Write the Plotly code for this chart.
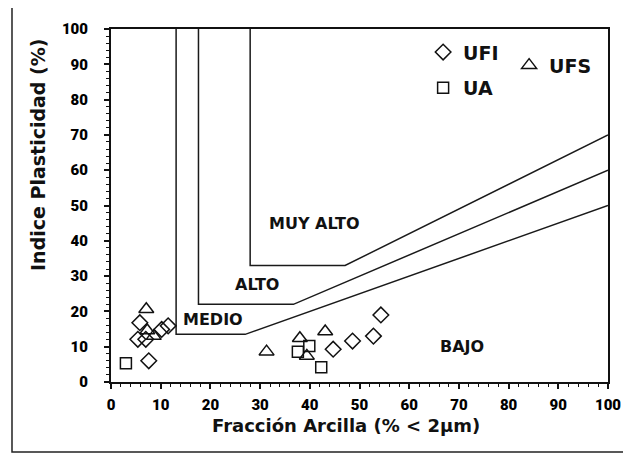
import plotly.graph_objects as go

# ---- data ----
ufi_x = [7.6, 5.8, 5.4, 7.0, 10.2, 11.5, 44.7, 48.6, 52.8, 54.3]
ufi_y = [6.0, 16.8, 12.1, 12.1, 14.9, 15.9, 9.3, 11.6, 13.0, 19.0]

ua_x = [3.0, 37.6, 39.9, 42.3]
ua_y = [5.3, 8.6, 10.2, 4.2]

ufs_x = [7.1, 7.3, 8.6, 31.3, 38.0, 39.4, 43.1]
ufs_y = [20.6, 14.6, 13.0, 8.6, 12.4, 7.4, 14.3]

# class boundaries (polylines)
muy_alto_x = [28, 28, 47.1, 100]
muy_alto_y = [100, 33, 33, 70]
alto_x = [17.6, 17.6, 36.7, 100]
alto_y = [100, 22, 22, 60]
medio_x = [13.1, 13.1, 27, 100]
medio_y = [100, 13.5, 13.5, 50]

region_labels = ["MUY ALTO", "ALTO", "MEDIO", "BAJO"]
region_x = [41, 29.3, 20.5, 70.6]
region_y = [44.8, 27.5, 17.8, 10]

x_ticks = list(range(0, 101, 10))
y_ticks = list(range(0, 101, 10))
x_ticktext = [str(v) for v in x_ticks]
y_ticktext = [str(v) for v in y_ticks]

TXT = "DejaVu Sans"
TICK = "Roboto"

fig = go.Figure()

for bx, by in [(muy_alto_x, muy_alto_y), (alto_x, alto_y), (medio_x, medio_y)]:
    fig.add_trace(go.Scatter(x=bx, y=by, mode="lines", showlegend=False,
                             line=dict(color="#1a1a1a", width=1.5), hoverinfo="skip"))

fig.add_trace(go.Scatter(x=ufi_x, y=ufi_y, mode="markers", name="UFI",
                         legend="legend", legendgroup="a",
                         marker=dict(symbol="diamond-open", size=12, color="#111",
                                     line=dict(width=1.5))))
fig.add_trace(go.Scatter(x=ua_x, y=ua_y, mode="markers", name="UA",
                         legend="legend", legendgroup="b",
                         marker=dict(symbol="square-open", size=11, color="#111",
                                     line=dict(width=1.5))))
fig.add_trace(go.Scatter(x=ufs_x, y=ufs_y, mode="markers", name="UFS",
                         legend="legend2",
                         marker=dict(symbol="triangle-up-open", size=13, color="#111",
                                     line=dict(width=1.5))))

for t, x, y in zip(region_labels, region_x, region_y):
    fig.add_annotation(x=x, y=y, text="<b>%s</b>" % t, showarrow=False,
                       font=dict(family=TXT, size=16, color="#111"))

# axis titles
fig.add_annotation(xref="paper", yref="paper", x=0.473, y=-0.122,
                   xanchor="center", yanchor="middle",
                   text="<b>Fracción Arcilla (% < 2μm)</b>", showarrow=False,
                   font=dict(family=TXT, size=18, color="#111"))
fig.add_annotation(xref="paper", yref="paper", x=-0.147, y=0.643,
                   xanchor="center", yanchor="middle",
                   text="<b>Indice Plasticidad (%)</b>", showarrow=False, textangle=-90,
                   font=dict(family=TXT, size=19, color="#111"))

# outer frame
fig.add_shape(type="rect", xref="paper", yref="paper",
              x0=-0.1992, x1=1.0362, y0=-0.1983, y1=1.0623,
              line=dict(color="#222", width=1.5))

axis_common = dict(
    showgrid=False, zeroline=False, showline=True, linecolor="#111", linewidth=2,
    mirror=True, ticks="outside", ticklen=5, tickwidth=1.5, tickcolor="#111",
    tickfont=dict(family=TICK, size=15, color="#000", weight=900),
    minor=dict(dtick=2, ticks="outside", ticklen=3, tickwidth=1, tickcolor="#111"),
    range=[0, 100],
)

# page body has an 8px margin: compensate so the plot area lands where it should
fig.update_layout(
    width=623, height=445,
    margin=dict(l=103, r=23, t=21, b=71, autoexpand=False),
    paper_bgcolor="white", plot_bgcolor="white",
    xaxis=dict(**axis_common, tickvals=x_ticks, ticktext=x_ticktext, ticklabelstandoff=3),
    yaxis=dict(**axis_common, tickvals=y_ticks, ticktext=y_ticktext, ticklabelstandoff=13),
    legend=dict(x=0.628, y=0.988, xanchor="left", yanchor="top",
                bgcolor="rgba(0,0,0,0)", itemwidth=30, tracegroupgap=8,
                traceorder="grouped",
                font=dict(family=TXT, size=19, color="#111", weight="bold")),
    legend2=dict(x=0.801, y=0.951, xanchor="left", yanchor="top",
                 bgcolor="rgba(0,0,0,0)", itemwidth=30,
                 font=dict(family=TXT, size=19, color="#111", weight="bold")),
)

fig.write_html("out.html")
